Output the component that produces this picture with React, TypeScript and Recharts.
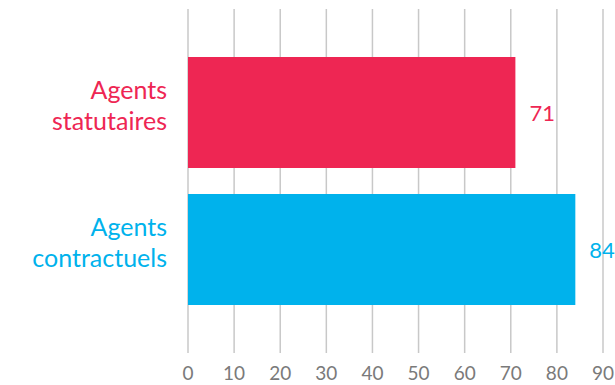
import { BarChart, Bar, XAxis, YAxis, CartesianGrid, Cell, LabelList } from "recharts";

const categories = ["Agents statutaires", "Agents contractuels"];
const values = [71, 84];
const colors = ["#EE2653", "#00B2EC"];
const xTicks = [0, 10, 20, 30, 40, 50, 60, 70, 80, 90];

const data = categories.map((name, i) => ({ name, value: values[i], color: colors[i] }));

const FONT = "Lato, 'Open Sans', sans-serif";

function CategoryTick({ x, y, payload, index }: any) {
  const words = String(payload.value).split(" ");
  const color = colors[index] ?? "#333";
  const tx = x - 13;
  return (
    <g>
      <text x={tx} y={y - 14} textAnchor="end" fill={color} fontSize={25} fontFamily={FONT}>
        {words[0]}
      </text>
      <text x={tx} y={y + 17} textAnchor="end" fill={color} fontSize={25} fontFamily={FONT}>
        {words.slice(1).join(" ")}
      </text>
    </g>
  );
}

function ValueLabel({ x, y, width, height, value, index }: any) {
  return (
    <text
      x={x + width + 14}
      y={y + height / 2}
      dominantBaseline="central"
      fill={colors[index]}
      fontSize={22}
      fontFamily={FONT}
    >
      {value}
    </text>
  );
}

export default function App() {
  return (
    <div style={{ position: "absolute", left: 0, top: 0, background: "#fff" }}>
      <BarChart
        width={615}
        height={385}
        data={data}
        layout="vertical"
        margin={{ top: 9, right: 12, bottom: 0, left: 0 }}
      >
        <CartesianGrid horizontal={false} stroke="#c8c8c8" strokeWidth={1.5} />
        <XAxis
          type="number"
          domain={[0, 90]}
          ticks={xTicks}
          axisLine={false}
          tickLine={false}
          tickSize={0}
          tickMargin={14}
          height={32}
          interval={0}
          tick={{ fill: "#7a7a7a", fontSize: 19, fontFamily: FONT }}
        />
        <YAxis
          type="category"
          dataKey="name"
          width={188}
          axisLine={false}
          tickLine={false}
          padding={{ top: 35, bottom: 35 }}
          tick={<CategoryTick />}
        />
        <Bar dataKey="value" barSize={111} isAnimationActive={false}>
          {data.map((d) => (
            <Cell key={d.name} fill={d.color} />
          ))}
          <LabelList dataKey="value" content={<ValueLabel />} />
        </Bar>
      </BarChart>
    </div>
  );
}
